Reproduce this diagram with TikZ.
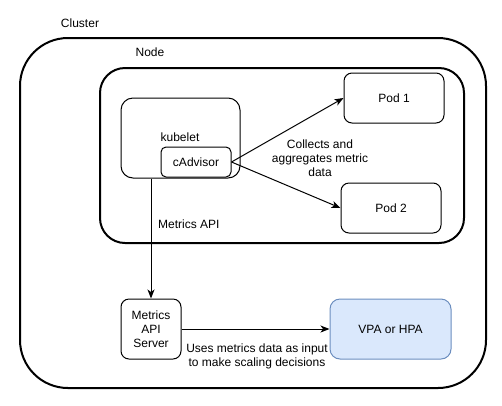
\documentclass[tikz,border=0pt]{standalone}
\usepackage{fontspec}
\setmainfont{Liberation Sans}
\usetikzlibrary{arrows.meta}
\definecolor{vpafill}{HTML}{DAE8FC}
\definecolor{vpaline}{HTML}{6C8EBF}
\tikzset{
  every node/.style={font=\fontsize{12}{14}\selectfont, inner sep=0pt},
  bigbox/.style={draw, line width=2pt, rectangle, minimum width=#1},
  box/.style={draw, line width=1pt, rectangle},
  lbl/.style={align=center},
  arr/.style={line width=1pt, -{Stealth[length=9pt,width=7pt,inset=2.5pt]}},
}
\begin{document}
\begin{tikzpicture}[x=1pt,y=-1pt]
\useasboundingbox (0,0) rectangle (502,405);
% containers
\node[draw, line width=2pt, rounded corners=48pt, minimum width=466pt, minimum height=350pt] (cluster) at (253,213) {};
\node[draw, line width=2pt, rounded corners=25pt, minimum width=364pt, minimum height=175pt] (nodebox) at (282,155.5) {};
\node (clusterlbl) at (80,23) {Cluster};
\node (nodelbl) at (150,52) {Node};
% kubelet
\node[box, rounded corners=12pt, minimum width=119pt, minimum height=80pt] (kubelet) at (180.5,138) {};
\node (kubeletlbl) at (180,137) {kubelet};
\node[box, rounded corners=5pt, minimum width=70pt, minimum height=30pt] (cadvisor) at (196,162) {cAdvisor};
% pods
\node[box, rounded corners=8pt, minimum width=100pt, minimum height=50pt] (pod1) at (394,98) {Pod 1};
\node[box, rounded corners=8pt, minimum width=100pt, minimum height=50pt] (pod2) at (391,208) {Pod 2};
% bottom
\node[box, rounded corners=8pt, minimum width=60pt, minimum height=60pt, lbl] (metrics) at (151,329) {Metrics\\API\\Server};
\node[draw=vpaline, fill=vpafill, line width=1pt, rounded corners=10pt, minimum width=121pt, minimum height=60pt] (vpa) at (390.5,329) {VPA or HPA};
% connectors
\draw[arr] (cadvisor.east) -- (pod1.west);
\draw[arr] (cadvisor.east) -- (pod2.west);
\draw[arr] (metrics.north |- kubelet.south) -- (metrics.north);
\draw[arr] (metrics.east) -- (vpa.west);
% labels
\node[lbl] (collect) at (320,158) {Collects and\\aggregates metric\\data};
\node[anchor=west] (mapi) at (158,224) {Metrics API};
\node[lbl] (uses) at (257,356.5) {Uses metrics data as input\\to make scaling decisions};
\end{tikzpicture}
\end{document}
